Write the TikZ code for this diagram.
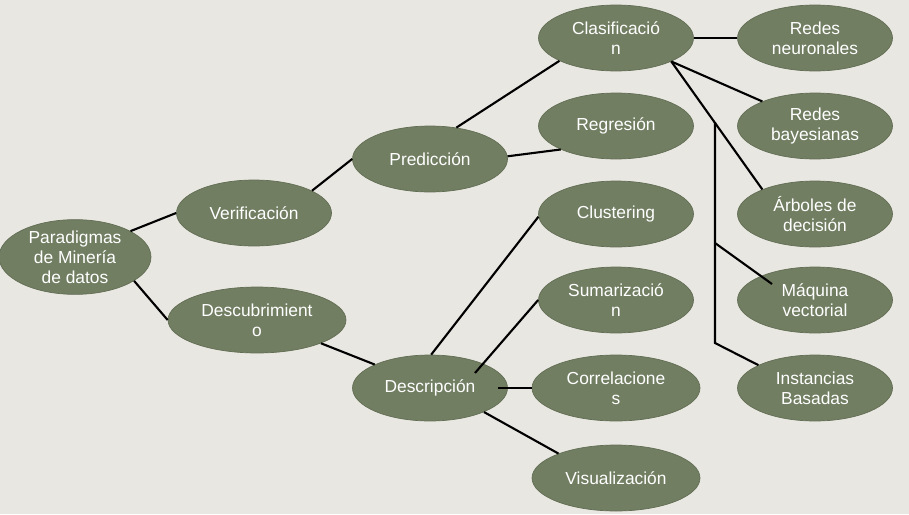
\documentclass[tikz,border=0pt]{standalone}
\usepackage{fontspec}
\setmainfont{Liberation Sans}
\usetikzlibrary{shapes.geometric, calc}

\definecolor{fondo}{RGB}{233,231,226}
\definecolor{oliva}{RGB}{113,126,98}
\definecolor{olivaborde}{RGB}{98,110,84}

\begin{document}
\begin{tikzpicture}[x=0.02cm, y=-0.02cm,
  burbuja/.style={ellipse, fill=oliva, draw=olivaborde, line width=0.4pt,
    minimum width=3.1cm, minimum height=1.32cm, inner sep=0pt, align=center,
    text=white, font=\fontsize{9.9}{11.4}\selectfont},
  ancha/.style={minimum width=3.36cm},
  rama/.style={line width=1.2pt, black}]

\fill[fondo] (0,0) rectangle (909,514);
\useasboundingbox (0,0) rectangle (909,514);

\node[burbuja, minimum width=3.04cm, minimum height=1.28cm] (par) at (75,257) {Paradigmas\\de Minería\\de datos};
\node[burbuja] (ver) at (254,213) {Verificación};
\node[burbuja, minimum width=3.56cm] (des) at (257,320) {Descubrimient\\o};
\node[burbuja] (pre) at (430,159) {Predicción};
\node[burbuja] (dsc) at (430,388) {Descripción};

\node[burbuja] (cla) at (616,38) {Clasificació\\n};
\node[burbuja] (reg) at (616,126) {Regresión};
\node[burbuja] (clu) at (616,214) {Clustering};
\node[burbuja] (sum) at (616,300) {Sumarizació\\n};
\node[burbuja, ancha] (cor) at (616,388) {Correlacione\\s};
\node[burbuja, ancha] (vis) at (616,478) {Visualización};

\node[burbuja] (rn) at (815,38) {Redes\\neuronales};
\node[burbuja] (rb) at (815,126) {Redes\\bayesianas};
\node[burbuja] (arb) at (815,214) {Árboles de\\decisión};
\node[burbuja] (maq) at (815,300) {Máquina\\vectorial};
\node[burbuja] (ins) at (815,388) {Instancias\\Basadas};

% tronco de las ramas sueltas
\coordinate (t1) at (715,122);
\coordinate (t2) at (715,243);
\coordinate (t3) at (715,343);

\draw[rama] (par.25) -- (ver.180);
\draw[rama] (par.-22) -- (des.180);
\draw[rama] (ver.21) -- (pre.180);
\draw[rama] (des.-20) -- (dsc.157);
\draw[rama] (pre.50) -- (cla.202);
\draw[rama] (pre.2) -- (reg.203);
\draw[rama] (dsc.88) -- (clu.182);
\draw[rama] ($(dsc)+(45,-15)$) -- (sum.180);
\draw[rama] ($(dsc)+(68,0)$) -- (cor.west);
\draw[rama] (dsc.-24) -- (vis.157);
\draw[rama] (cla.east) -- (rn.west);
\draw[rama] (cla.-23) -- (rb.155);
\draw[rama] (cla.-23) -- (arb.155);
\draw[rama] (t1) -- (t3) -- (ins.158);
\draw[rama] (t2) -- ($(maq)+(-43,-16)$);

\end{tikzpicture}
\end{document}
